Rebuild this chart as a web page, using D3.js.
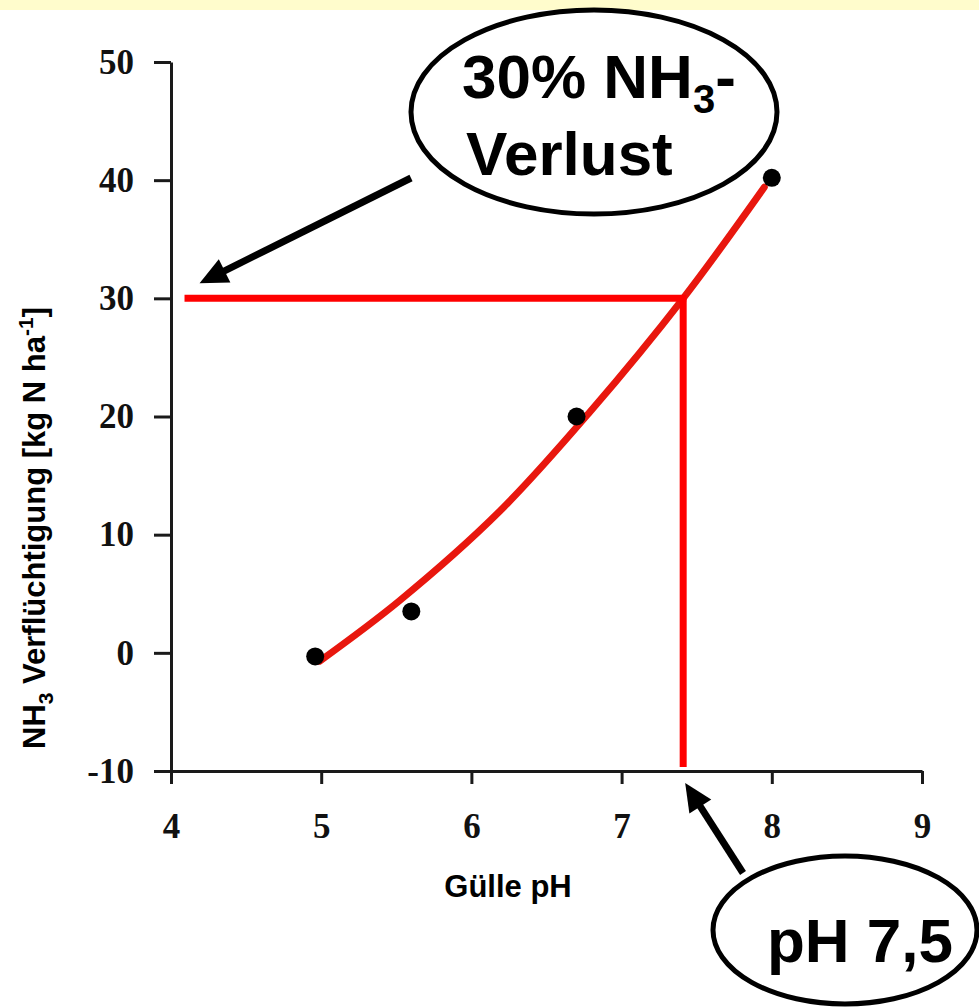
<!DOCTYPE html>
<html lang="de">
<head>
  <meta charset="UTF-8">
  <title>NH3 Verflüchtigung und Gülle pH</title>
  <script src="https://d3js.org/d3.v7.min.js"></script>
  <style>
    body { margin: 0; background: #fff; }
    .axis path, .axis line { stroke: #1a1a1a; stroke-width: 3px; }
    .axis text {
      font-family: "Liberation Serif", "Times New Roman", serif;
      font-weight: bold;
      font-size: 35px;
      fill: #111;
    }
    .title { font-family: "Liberation Sans", Arial, sans-serif; font-weight: bold; fill: #000; }
  </style>
</head>
<body>
  <svg width="979" height="1008"></svg>

  <script>
    // measured points (Gülle pH / NH3 kg N ha-1)
    var phPoints = [4.96, 5.6, 6.7, 8.0];
    var nh3Points = [-0.3, 3.5, 20.0, 40.2];

    // red fitted curve
    var curvePh  = [4.99, 5.52, 6.19, 6.79, 7.41, 7.95];
    var curveNh3 = [-0.7, 4.4, 12.0, 20.4, 30.0, 39.4];

    var xTicks = [4, 5, 6, 7, 8, 9];
    var yTicks = [-10, 0, 10, 20, 30, 40, 50];

    // 30% loss reading
    var targetPh = 7.41;
    var targetLoss = 30;
    var lineStartPh = 4.09;

    var svg = d3.select("svg"),
        width = +svg.attr("width"),
        height = +svg.attr("height");

    // pale yellow strip at the top
    svg.append("rect")
        .attr("x", 0).attr("y", 0)
        .attr("width", width).attr("height", 10)
        .attr("fill", "#fffccc");

    var x = d3.scaleLinear().domain([4, 9]).range([171, 922]);
    var y = d3.scaleLinear().domain([-10, 50]).range([771, 62]);

    svg.append("g")
        .attr("class", "axis")
        .attr("transform", "translate(" + x(4) + ",0)")
        .call(d3.axisLeft(y).tickValues(yTicks).tickSize(17).tickSizeOuter(0)
          .tickPadding(20).tickFormat(function(d) { return String(d); }));

    svg.append("g")
        .attr("class", "axis")
        .attr("transform", "translate(0," + y(-10) + ")")
        .call(d3.axisBottom(x).tickValues(xTicks).tickSize(13).tickSizeOuter(0)
          .tickPadding(29).tickFormat(function(d) { return String(d); }));

    // axis titles
    svg.append("text")
        .attr("class", "title")
        .attr("x", 508)
        .attr("y", 897)
        .attr("text-anchor", "middle")
        .style("font-size", "31px")
        .text("Gülle pH");

    var yt = svg.append("text")
        .attr("class", "title")
        .attr("transform", "translate(45," + 528 + ") rotate(-90)")
        .attr("text-anchor", "middle")
        .style("font-size", "31px");
    yt.append("tspan").text("NH");
    yt.append("tspan").attr("dy", 8).style("font-size", "21px").text("3");
    yt.append("tspan").attr("dy", -8).text(" Verflüchtigung [kg N ha");
    yt.append("tspan").attr("dy", -12).style("font-size", "21px").text("-1");
    yt.append("tspan").attr("dy", 12).text("]");

    // fitted curve
    var curve = curvePh.map(function(p, i) { return [p, curveNh3[i]]; });
    var line = d3.line()
        .x(function(d) { return x(d[0]); })
        .y(function(d) { return y(d[1]); })
        .curve(d3.curveCatmullRom);

    svg.append("path")
        .datum(curve)
        .attr("d", line)
        .attr("fill", "none")
        .attr("stroke", "#e8170e")
        .attr("stroke-width", 7)
        .attr("stroke-linecap", "round");

    svg.selectAll(".dot")
        .data(phPoints)
        .enter().append("circle")
        .attr("class", "dot")
        .attr("cx", function(d) { return x(d); })
        .attr("cy", function(d, i) { return y(nh3Points[i]); })
        .attr("r", 9)
        .attr("fill", "#000");

    // reading lines
    svg.append("line")
        .attr("x1", x(lineStartPh)).attr("y1", y(targetLoss))
        .attr("x2", x(targetPh) + 3).attr("y2", y(targetLoss))
        .attr("stroke", "#ff0000").attr("stroke-width", 7);
    svg.append("line")
        .attr("x1", x(targetPh)).attr("y1", y(targetLoss))
        .attr("x2", x(targetPh)).attr("y2", y(-10) - 4)
        .attr("stroke", "#ff0000").attr("stroke-width", 7);

    // callouts
    function arrow(x1, y1, x2, y2) {
      var len = 28, half = 13;
      var dx = x2 - x1, dy = y2 - y1, d = Math.sqrt(dx * dx + dy * dy);
      var ux = dx / d, uy = dy / d;
      var bx = x2 - ux * len, by = y2 - uy * len;
      svg.append("line")
          .attr("x1", x1).attr("y1", y1)
          .attr("x2", bx + ux * 4).attr("y2", by + uy * 4)
          .attr("stroke", "#000").attr("stroke-width", 7);
      svg.append("path")
          .attr("d", "M" + x2 + "," + y2 +
                     "L" + (bx - uy * half) + "," + (by + ux * half) +
                     "L" + (bx + uy * half) + "," + (by - ux * half) + "Z")
          .attr("fill", "#000");
    }

    arrow(411, 178, x(4.19), y(targetLoss) - 15);
    arrow(743, 873, x(targetPh) + 2, y(-10) + 12);

    svg.append("ellipse")
        .attr("cx", 594).attr("cy", 112).attr("rx", 183).attr("ry", 102)
        .attr("fill", "#fff").attr("stroke", "#000").attr("stroke-width", 5);

    var t1 = svg.append("text")
        .attr("class", "title")
        .attr("x", 462).attr("y", 98)
        .style("font-size", "62px");
    t1.append("tspan").text("30% NH");
    t1.append("tspan").attr("dy", 15).style("font-size", "40px").text("3");
    t1.append("tspan").attr("dy", -15).text("-");

    svg.append("text")
        .attr("class", "title")
        .attr("x", 466).attr("y", 175)
        .style("font-size", "62px")
        .text("Verlust");

    svg.append("ellipse")
        .attr("cx", 845).attr("cy", 930).attr("rx", 132).attr("ry", 74)
        .attr("fill", "#fff").attr("stroke", "#000").attr("stroke-width", 5);

    svg.append("text")
        .attr("class", "title")
        .attr("x", 767).attr("y", 962)
        .style("font-size", "62px")
        .text("pH 7,5");
  </script>
</body>
</html>
